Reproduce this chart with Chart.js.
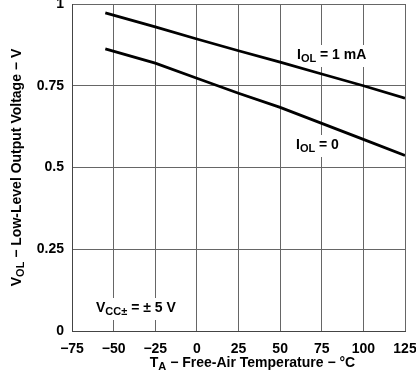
<!DOCTYPE html>
<html>
<head>
<meta charset="utf-8">
<script src="https://cdn.jsdelivr.net/npm/chart.js@4"></script>
<style>
  html, body { margin: 0; padding: 0; background: #fff; }
  #wrap { width: 416px; height: 372px; }
</style>
</head>
<body>
<div id="wrap"><canvas id="vol-chart"></canvas></div>
<script>
const temps = [-55, -25, 0, 25, 50, 75, 100, 125];
const vol1mA = [0.973, 0.93, 0.893, 0.857, 0.822, 0.786, 0.75, 0.712];
const vol0 = [0.863, 0.819, 0.773, 0.727, 0.684, 0.635, 0.586, 0.537];
const xTicks = [-75, -50, -25, 0, 25, 50, 75, 100, 125];
const yTicks = [0, 0.25, 0.5, 0.75, 1];

const FONT = '"Liberation Sans", Arial, sans-serif';

function partsWidth(ctx, parts, size) {
    let w = 0;
    parts.forEach(p => {
        ctx.font = 'bold ' + (p[1] ? size - 3 : size) + 'px ' + FONT;
        w += ctx.measureText(p[0]).width;
    });
    return w;
}

// text with subscript pieces: [[text, isSub], ...]
function drawRich(ctx, parts, x, y, size, align) {
    ctx.save();
    const w = partsWidth(ctx, parts, size);
    let cx = align === 'center' ? x - w / 2 : x;
    ctx.textBaseline = 'middle';
    ctx.textAlign = 'left';
    ctx.fillStyle = '#000';
    parts.forEach(p => {
        ctx.font = 'bold ' + (p[1] ? size - 3 : size) + 'px ' + FONT;
        ctx.fillText(p[0], cx, p[1] ? y + 4 : y);
        cx += ctx.measureText(p[0]).width;
    });
    ctx.restore();
}

function label(ctx, parts, x, y, size) {
    ctx.save();
    const w = partsWidth(ctx, parts, size);
    ctx.fillStyle = '#fff';
    ctx.fillRect(x - 3, y - 10, w + 6, 22);
    ctx.restore();
    drawRich(ctx, parts, x, y, size, 'left');
}

const textPlugin = {
    id: 'texts',
    beforeDatasetsDraw(chart) {
        const ctx = chart.ctx;
        label(ctx, [['I', false], ['OL', true], [' = 1 mA', false]], 297, 55, 14);
        label(ctx, [['I', false], ['OL', true], [' = 0', false]], 296, 145, 14);
        label(ctx, [['V', false], ['CC\u00b1', true], [' = \u00b1 5 V', false]], 96, 308, 14);
    },
    afterDraw(chart) {
        const ctx = chart.ctx;
        const x = chart.scales.x, y = chart.scales.y;
        drawRich(ctx, [['T', false], ['A', true], [' \u2212 Free-Air Temperature \u2212 \u00b0C', false]],
            (x.left + x.right) / 2 + 14, 363, 14, 'center');
        ctx.save();
        ctx.translate(17, (y.top + y.bottom) / 2);
        ctx.rotate(-Math.PI / 2);
        drawRich(ctx, [['V', false], ['OL', true], [' \u2212 Low-Level Output Voltage \u2212 V', false]],
            0, 0, 14, 'center');
        ctx.restore();
    }
};

function noPad(s) {
    s.paddingTop = 0; s.paddingBottom = 0; s.paddingLeft = 0; s.paddingRight = 0;
}

new Chart(document.getElementById('vol-chart'), {
    type: 'line',
    data: {
        datasets: [
            { data: temps.map((t, i) => ({ x: t, y: vol1mA[i] })), borderColor: '#000', borderWidth: 2.8, pointRadius: 0, tension: 0 },
            { data: temps.map((t, i) => ({ x: t, y: vol0[i] })), borderColor: '#000', borderWidth: 2.8, pointRadius: 0, tension: 0 }
        ]
    },
    options: {
        responsive: true,
        maintainAspectRatio: false,
        animation: false,
        layout: { padding: { top: 4, right: 11, left: 0, bottom: 0 } },
        plugins: { legend: { display: false }, tooltip: { enabled: false } },
        scales: {
            x: {
                type: 'linear', min: -75, max: 125,
                afterBuildTicks: s => { s.ticks = xTicks.map(v => ({ value: v })); },
                afterFit: s => { s.height = 41; noPad(s); },
                grid: { color: '#666', lineWidth: 1, drawTicks: false },
                border: { color: '#444', width: 1 },
                ticks: {
                    color: '#000', padding: 10, maxRotation: 0,
                    font: { family: FONT, size: 14, weight: 'bold' },
                    callback: v => String(v).replace('-', '\u2212')
                }
            },
            y: {
                min: 0, max: 1,
                afterBuildTicks: s => { s.ticks = yTicks.map(v => ({ value: v })); },
                afterFit: s => { s.width = 72; noPad(s); },
                grid: { color: '#666', lineWidth: 1, drawTicks: false },
                border: { color: '#444', width: 1 },
                ticks: {
                    color: '#000', padding: 8,
                    font: { family: FONT, size: 14, weight: 'bold' },
                    callback: v => String(v)
                }
            }
        }
    },
    plugins: [textPlugin]
});
</script>
</body>
</html>
